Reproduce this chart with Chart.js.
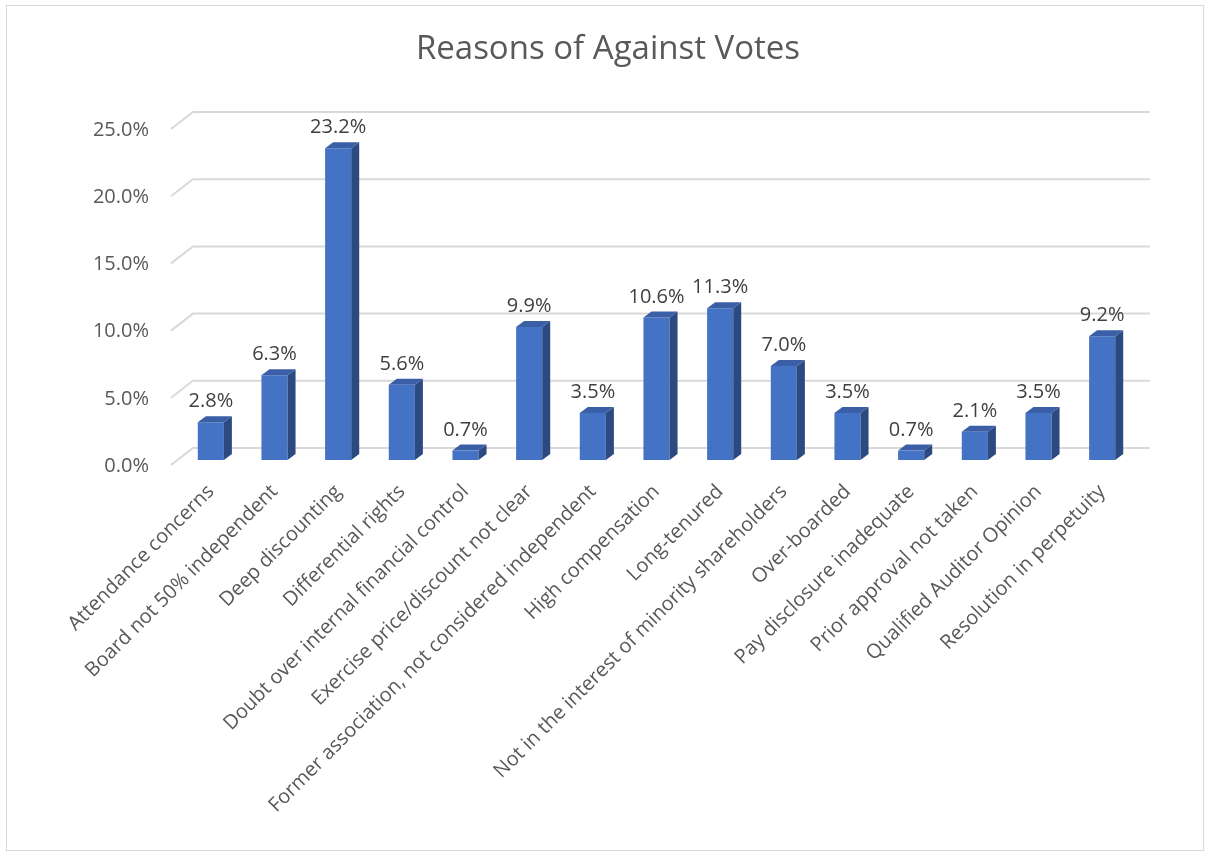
<!DOCTYPE html>
<html lang="en">
<head>
   <meta charset="UTF-8">
   <title>Reasons of Against Votes</title>
   <script src="https://cdn.jsdelivr.net/npm/chart.js@4.4.1/dist/chart.umd.min.js"></script>
   <style>
       body {
           margin: 0;
           background: #fff;
       }
       #wrap {
           position: absolute;
           left: 0;
           top: 0;
           width: 1205px;
           height: 855px;
       }
   </style>
</head>
<body>
   <div id="wrap">
       <canvas id="votesChart" width="1205" height="855"></canvas>
   </div>

   <script>
       const categories = [
           'Attendance concerns',
           'Board not 50% independent',
           'Deep discounting',
           'Differential rights',
           'Doubt over internal financial control',
           'Exercise price/discount not clear',
           'Former association, not considered independent',
           'High compensation',
           'Long-tenured',
           'Not in the interest of minority shareholders',
           'Over-boarded',
           'Pay disclosure inadequate',
           'Prior approval not taken',
           'Qualified Auditor Opinion',
           'Resolution in perpetuity'
       ];
       const shares = [0.028, 0.063, 0.232, 0.056, 0.007, 0.099, 0.035, 0.106, 0.113, 0.070, 0.035, 0.007, 0.021, 0.035, 0.092];
       const yTicks = [0, 0.05, 0.10, 0.15, 0.20, 0.25];
       const chartTitle = 'Reasons of Against Votes';

       const FONT = '"Open Sans", "DejaVu Sans", sans-serif';
       const DEPTH_X = 8;
       const DEPTH_Y = 6;

       function pct(v) {
           return (v * 100).toFixed(1) + '%';
       }

       // frame, title, 3D style back wall gridlines and bar faces
       const wallPlugin = {
           id: 'wall',
           beforeDraw(chart) {
               const ctx = chart.ctx;
               ctx.save();
               ctx.fillStyle = '#ffffff';
               ctx.fillRect(0, 0, chart.width, chart.height);
               ctx.strokeStyle = '#d9d9d9';
               ctx.lineWidth = 1;
               ctx.strokeRect(6.5, 5.5, 1197, 845);
               ctx.fillStyle = '#595959';
               ctx.font = '33px ' + FONT;
               ctx.textAlign = 'center';
               ctx.textBaseline = 'middle';
               ctx.fillText(chartTitle, 608, 50);
               ctx.restore();
           },
           beforeDatasetsDraw(chart) {
               const ctx = chart.ctx;
               const area = chart.chartArea;
               const y = chart.scales.y;
               ctx.save();
               ctx.strokeStyle = '#d9d9d9';
               ctx.lineWidth = 2;
               yTicks.forEach(v => {
                   const py = y.getPixelForValue(v);
                   ctx.beginPath();
                   ctx.moveTo(area.left - 8, py + 5);
                   ctx.lineTo(area.left + 14, py - 12);
                   ctx.lineTo(area.right + 16, py - 12);
                   ctx.stroke();
               });
               ctx.restore();
           },
           afterDatasetsDraw(chart) {
               const ctx = chart.ctx;
               const meta = chart.getDatasetMeta(0);
               ctx.save();
               meta.data.forEach((bar, i) => {
                   const half = bar.width / 2;
                   const l = bar.x - half;
                   const r = bar.x + half;
                   // side face
                   ctx.fillStyle = '#2c4a80';
                   ctx.beginPath();
                   ctx.moveTo(r, bar.y);
                   ctx.lineTo(r + DEPTH_X, bar.y - DEPTH_Y);
                   ctx.lineTo(r + DEPTH_X, bar.base - DEPTH_Y);
                   ctx.lineTo(r, bar.base);
                   ctx.closePath();
                   ctx.fill();
                   // top face
                   ctx.fillStyle = '#3a5fa6';
                   ctx.beginPath();
                   ctx.moveTo(l, bar.y);
                   ctx.lineTo(l + DEPTH_X, bar.y - DEPTH_Y);
                   ctx.lineTo(r + DEPTH_X, bar.y - DEPTH_Y);
                   ctx.lineTo(r, bar.y);
                   ctx.closePath();
                   ctx.fill();
                   // value label
                   ctx.fillStyle = '#404040';
                   ctx.font = '20px ' + FONT;
                   ctx.textAlign = 'center';
                   ctx.textBaseline = 'alphabetic';
                   ctx.fillText(pct(shares[i]), bar.x, bar.y - 15);
               });
               ctx.restore();
           }
       };

       new Chart(document.getElementById('votesChart'), {
           type: 'bar',
           data: {
               labels: categories,
               datasets: [{
                   data: shares,
                   backgroundColor: '#4472c4',
                   borderWidth: 0,
                   barPercentage: 0.41,
                   categoryPercentage: 1
               }]
           },
           options: {
               responsive: false,
               animation: false,
               layout: {
                   padding: { left: 0, right: 71, top: 124, bottom: 0 }
               },
               plugins: {
                   legend: { display: false },
                   tooltip: { enabled: false },
                   title: { display: false }
               },
               scales: {
                   x: {
                       grid: { display: false, drawTicks: false },
                       border: { display: false },
                       ticks: {
                           autoSkip: false,
                           maxRotation: 45,
                           minRotation: 45,
                           padding: 20,
                           color: '#595959',
                           font: { family: FONT, size: 20 }
                       },
                       afterFit(scale) {
                           scale.height = 395;
                       }
                   },
                   y: {
                       min: 0,
                       max: 0.25,
                       grid: { display: false, drawTicks: false },
                       border: { display: false },
                       afterBuildTicks(scale) {
                           scale.ticks = yTicks.map(v => ({ value: v }));
                       },
                       ticks: {
                           padding: 30,
                           labelOffset: 6,
                           color: '#595959',
                           font: { family: FONT, size: 20 },
                           callback: v => pct(v)
                       },
                       afterFit(scale) {
                           scale.width = 179;
                       }
                   }
               }
           },
           plugins: [wallPlugin]
       });
   </script>
</body>
</html>
